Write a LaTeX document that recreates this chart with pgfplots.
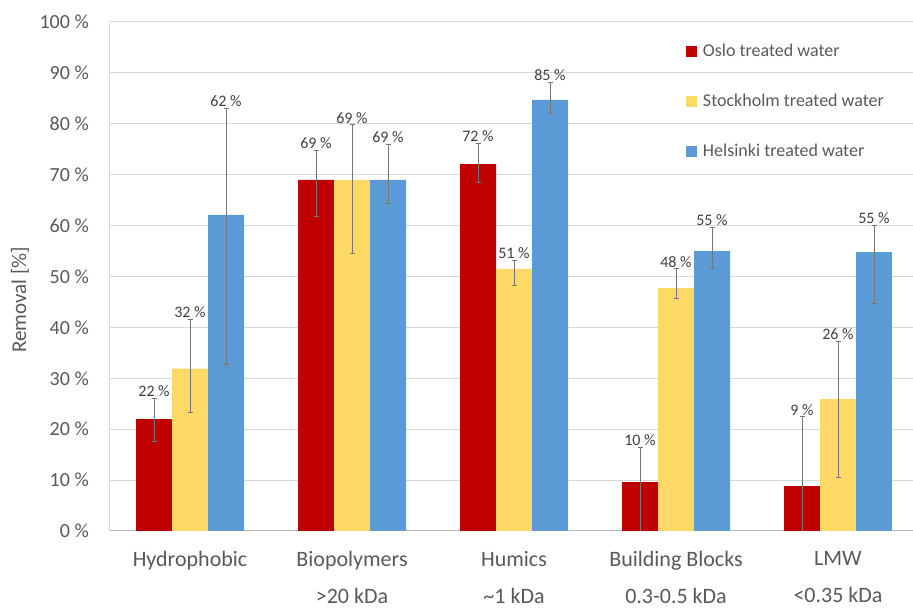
\documentclass[border=0pt]{standalone}
\usepackage{fontspec}
\setmainfont{Carlito}
\usepackage{pgfplots}
\pgfplotsset{compat=1.18}
\definecolor{oslo}{HTML}{C00000}
\definecolor{sthlm}{HTML}{FFD966}
\definecolor{hki}{HTML}{5B9BD5}
\definecolor{txt}{HTML}{595959}
\definecolor{lab}{HTML}{404040}
\definecolor{gridc}{HTML}{D9D9D9}
\definecolor{errc}{HTML}{767676}

\pgfplotsset{
  mybar/.style={ybar, bar width=0.2222, draw=none,
    legend image code/.code={\fill[##1] (0pt,0pt) rectangle (11pt,11pt);}},
  myerr/.style={draw=none, mark=none, forget plot,
    error bars/.cd, y dir=both, y explicit},
}

% labels sit on top of the error bars
\pgfplotstableread{
x y l
-0.2222 26.1 22
0 41.6 32
0.2222 83.1 62
0.7778 74.8 69
1 79.8 69
1.2222 76.0 69
1.7778 76.2 72
2 53.2 51
2.2222 88.2 85
2.7778 16.5 10
3 51.5 48
3.2222 59.7 55
3.7778 22.4 9
4 37.3 26
4.2222 60.1 55
}\labels

\begin{document}
\begin{tikzpicture}
\begin{axis}[
  name=ax,
  scale only axis,
  width=803pt, height=509pt,
  xmin=-0.494, xmax=4.463,
  ymin=0, ymax=100,
  axis x line*=bottom, axis y line*=left,
  axis line style={draw=gridc, line width=1pt, -},
  x axis line style={draw=gray!55},
  ytick={0,10,...,100},
  ymajorgrids,
  grid style={draw=gridc, line width=1pt},
  major tick length=0pt,
  /pgf/number format/assume math mode=true,
  yticklabel={\pgfmathprintnumber{\tick}~\%},
  yticklabel style={font=\fontsize{20}{24}\selectfont, text=txt, anchor=east, inner sep=0pt, xshift=-21pt},
  xtick={0,...,4},
  xticklabels={Hydrophobic, {Biopolymers\\>20 kDa}, {Humics\\\textasciitilde1 kDa}, {Building Blocks\\0.3-0.5 kDa}, {LMW\\<0.35 kDa}},
  xticklabel style={font=\fontsize{22}{37}\selectfont, text=txt, align=center, anchor=north, inner sep=0pt, yshift=-20pt},
  ylabel={Removal [\%]},
  every axis y label/.style={at={(axis description cs:-0.112,0.454)}, rotate=90, anchor=center, font=\fontsize{21}{24}\selectfont, text=txt},
  legend style={draw=none, fill=none, at={(axis description cs:0.7173,0.9548)}, anchor=north west,
    inner sep=0pt, outer sep=0pt, font=\fontsize{18}{22}\selectfont, text=txt, row sep=34pt, column sep=6pt,
    nodes={inner sep=0pt, text height=12pt, text depth=4pt, anchor=base west}},
  legend cell align=left,
  error bars/error bar style={draw=errc, line width=1pt},
  error bars/error mark options={draw=errc, line width=1pt, mark size=2.5pt, rotate=90},
]
\addplot[mybar, fill=oslo, bar shift=-0.2222] coordinates {
  (0,22) (1,69) (2,72.1) (3,9.6) (4,8.8)
};
\addlegendentry{Oslo treated water}
\addplot[mybar, fill=sthlm, bar shift=0] coordinates {
  (0,31.9) (1,69) (2,51.5) (3,47.7) (4,25.9)
};
\addlegendentry{Stockholm treated water}
\addplot[mybar, fill=hki, bar shift=0.2222] coordinates {
  (0,62.1) (1,69) (2,84.7) (3,55) (4,54.8)
};
\addlegendentry{Helsinki treated water}
% error bars, placed at the shifted bar centres
\addplot[myerr] coordinates {
  (-0.2222,22) += (0,4.1) -= (0,4.5)
  (0.7778,69) += (0,5.8) -= (0,7.3)
  (1.7778,72.1) += (0,4.1) -= (0,3.7)
  (2.7778,9.6) += (0,6.9) -= (0,14)
  (3.7778,8.8) += (0,13.6) -= (0,14)
};
\addplot[myerr] coordinates {
  (0,31.9) += (0,9.7) -= (0,8.7)
  (1,69) += (0,10.8) -= (0,14.4)
  (2,51.5) += (0,1.7) -= (0,3.2)
  (3,47.7) += (0,3.8) -= (0,2.1)
  (4,25.9) += (0,11.4) -= (0,15.3)
};
\addplot[myerr] coordinates {
  (0.2222,62.1) += (0,21) -= (0,29.3)
  (1.2222,69) += (0,7) -= (0,4.6)
  (2.2222,84.7) += (0,3.5) -= (0,2.6)
  (3.2222,55) += (0,4.7) -= (0,3.5)
  (4.2222,54.8) += (0,5.3) -= (0,10.2)
};
\addplot[draw=none, mark=none, forget plot,
  nodes near coords={\pgfplotspointmeta~\%},
  point meta=explicit symbolic,
  nodes near coords style={font=\fontsize{16}{19}\selectfont, text=lab, anchor=base, inner sep=0pt, yshift=1.5pt}]
  table[x=x, y=y, meta=l] {\labels};
\end{axis}
\pgfresetboundingbox
\path ([shift={(-110pt,-78pt)}]ax.south west) rectangle ([shift={(0pt,22pt)}]ax.north east);
\end{tikzpicture}
\end{document}
